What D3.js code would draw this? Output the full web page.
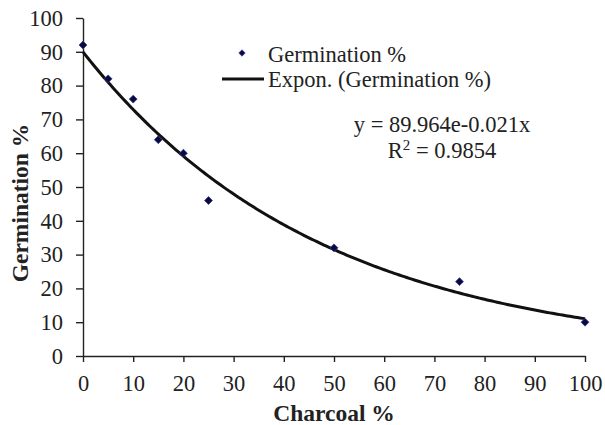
<!DOCTYPE html>
<html lang="en">
<head>
  <meta charset="UTF-8">
  <script src="https://cdn.jsdelivr.net/npm/d3@7"></script>
  <title>Germination vs Charcoal</title>
  <style>
    body { margin: 0; background: #fff; }
  </style>
</head>
<body>
  <script>
    const charcoal = [0, 5, 10, 15, 20, 25, 50, 75, 100]
    const germination = [92, 82, 76, 64, 60, 46, 32, 22, 10]
    const xTicks = [0, 10, 20, 30, 40, 50, 60, 70, 80, 90, 100]
    const yTicks = [0, 10, 20, 30, 40, 50, 60, 70, 80, 90, 100]
    // exponential trendline y = a * e^(b x)
    const fitA = 89.964
    const fitB = -0.021

    const width = 605, height = 425
    const margin = ({top: 18, right: 20, bottom: 69, left: 83})
    const serif = "'Liberation Serif', 'Times New Roman', 'DejaVu Serif', serif"
    const fs = '22.5px'

    const svg = d3.select('body').append('svg')
        .attr('width', width)
        .attr('height', height)

    const x = d3.scaleLinear()
        .domain([0, 100])
        .range([margin.left, width - margin.right])

    const y = d3.scaleLinear()
        .domain([0, 100])
        .range([height - margin.bottom, margin.top])

    const xAxis = g => g
        .attr('transform', `translate(0,${height - margin.bottom})`)
        .call(d3.axisBottom(x).tickValues(xTicks).tickSize(6).tickSizeOuter(0).tickPadding(13))

    const yAxis = g => g
        .attr('transform', `translate(${margin.left},0)`)
        .call(d3.axisLeft(y).tickValues(yTicks).tickSize(7).tickSizeOuter(0).tickPadding(13))

    svg.append('g').call(xAxis)
    svg.append('g').call(yAxis)

    svg.selectAll('.domain, .tick line')
        .attr('stroke', '#222')
        .attr('stroke-width', 1.4)
    svg.selectAll('.tick text')
        .attr('font-size', null)
        .style('font-size', fs)

    // trendline
    const fitData = d3.range(0, 100.5, 0.5).map(v => ({x: v, y: fitA * Math.exp(fitB * v)}))
    const line = d3.line()
        .x(d => x(d.x))
        .y(d => y(d.y))

    svg.append('path')
        .datum(fitData)
        .attr('fill', 'none')
        .attr('stroke', '#111')
        .attr('stroke-width', 3)
        .attr('stroke-linejoin', 'round')
        .attr('d', line)

    // points
    const diamond = d3.symbol().type(d3.symbolDiamond2).size(40)
    svg.append('g')
      .selectAll('path')
      .data(charcoal)
      .join('path')
        .attr('transform', (d, i) => `translate(${x(d)},${y(germination[i])})`)
        .attr('d', diamond)
        .attr('fill', '#0a0a3c')
        .attr('stroke', '#3a3a9a')
        .attr('stroke-width', 0.8)

    // legend
    const legend = svg.append('g')
    legend.append('path')
        .attr('transform', 'translate(242,53)')
        .attr('d', d3.symbol().type(d3.symbolDiamond2).size(26))
        .attr('fill', '#0a0a3c')
        .attr('stroke', '#3a3a9a')
        .attr('stroke-width', 0.8)
    legend.append('text')
        .attr('x', 268).attr('y', 62)
        .style('font-size', fs)
        .text('Germination %')
    legend.append('line')
        .attr('x1', 222).attr('x2', 264)
        .attr('y1', 79).attr('y2', 79)
        .attr('stroke', '#111')
        .attr('stroke-width', 3)
    legend.append('text')
        .attr('x', 268).attr('y', 87)
        .style('font-size', fs)
        .text('Expon. (Germination %)')

    // equation
    svg.append('text')
        .attr('x', 442).attr('y', 132)
        .attr('text-anchor', 'middle')
        .style('font-size', fs)
        .text(`y = ${fitA}e${fitB}x`)
    const r2 = svg.append('text')
        .attr('x', 442).attr('y', 158)
        .attr('text-anchor', 'middle')
        .style('font-size', fs)
    r2.append('tspan').text('R')
    r2.append('tspan').attr('dy', -8).style('font-size', '15px').text('2')
    r2.append('tspan').attr('dy', 8).text(' = 0.9854')

    // axis titles
    svg.append('text')
        .attr('x', 334).attr('y', 421)
        .attr('text-anchor', 'middle')
        .style('font-size', '23.5px')
        .style('font-weight', 'bold')
        .text('Charcoal %')

    svg.append('text')
        .attr('transform', 'translate(28,203) rotate(-90)')
        .attr('text-anchor', 'middle')
        .style('font-size', '23.5px')
        .style('font-weight', 'bold')
        .text('Germination %')

    svg.selectAll('text')
        .attr('font-family', null)
        .style('font-family', serif)
        .style('fill', '#222')
  </script>
</body>
</html>
